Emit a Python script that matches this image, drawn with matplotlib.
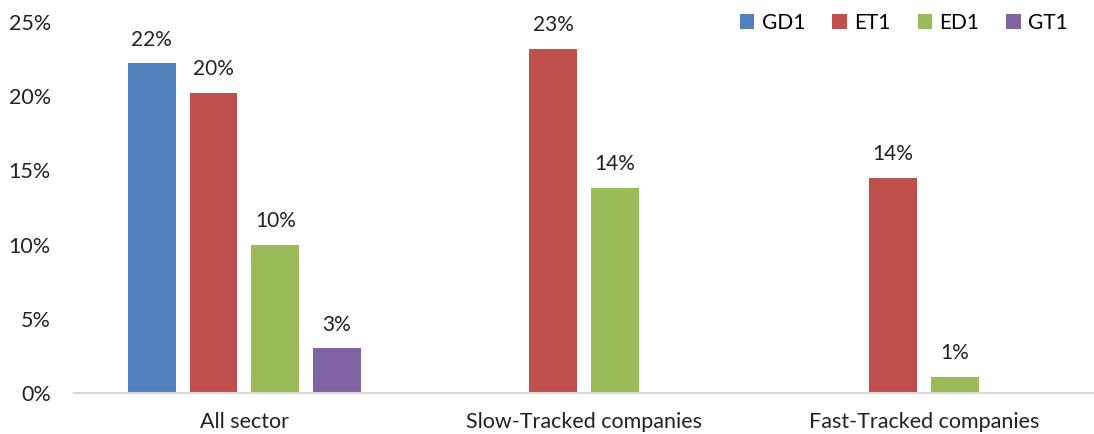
import numpy as np
import matplotlib
matplotlib.use("Agg")
import matplotlib.pyplot as plt
from matplotlib.ticker import PercentFormatter

plt.rcParams['font.family'] = ['Lato', 'DejaVu Sans']

categories = ["All sector", "Slow-Tracked companies", "Fast-Tracked companies"]
series = ["GD1", "ET1", "ED1", "GT1"]
gd1 = [0.222, np.nan, np.nan]
et1 = [0.202, 0.232, 0.145]
ed1 = [0.100, 0.138, 0.011]
gt1 = [0.030, np.nan, np.nan]
colors = ["#4F81BD", "#C0504D", "#9BBB59", "#8064A2"]

fig = plt.figure(figsize=(10.94, 4.34), dpi=100)
ax = fig.add_axes([0.068, 0.0945, 0.932, 0.855])

x = np.arange(len(categories))
step = 0.1818
width = 0.1408
for i, (name, vals, c) in enumerate(zip(series, [gd1, et1, ed1, gt1], colors)):
    pos = x + (i - 1.5) * step
    ax.bar(pos, vals, width=width, color=c, label=name)
    for px, v in zip(pos, vals):
        if np.isnan(v):
            continue
        ax.annotate(f"{v*100:.0f}%", (px, v), xytext=(0, 10), textcoords="offset points",
                    ha="center", va="bottom", fontsize=15, color="#222222")

ax.set_xlim(-0.5, 2.5)
ax.set_ylim(0, 0.25)
ax.set_yticks(np.arange(0, 0.26, 0.05))
ax.yaxis.set_major_formatter(PercentFormatter(1.0, decimals=0))
ax.set_xticks(x)
ax.set_xticklabels(categories)
ax.tick_params(axis="both", length=0, labelsize=15.5, colors="#222222")
ax.tick_params(axis="y", pad=17)
ax.tick_params(axis="x", pad=14)
for s in ["top", "right", "left"]:
    ax.spines[s].set_visible(False)
ax.spines["bottom"].set_color("#D9D9D9")
ax.spines["bottom"].set_linewidth(1.5)

ax.legend(loc="upper right", bbox_to_anchor=(0.993, 1.075), ncol=4, frameon=False,
          fontsize=15, handlelength=0.7, handleheight=0.7, handletextpad=0.35,
          columnspacing=1.3)

fig.savefig("out.png", dpi=100)
